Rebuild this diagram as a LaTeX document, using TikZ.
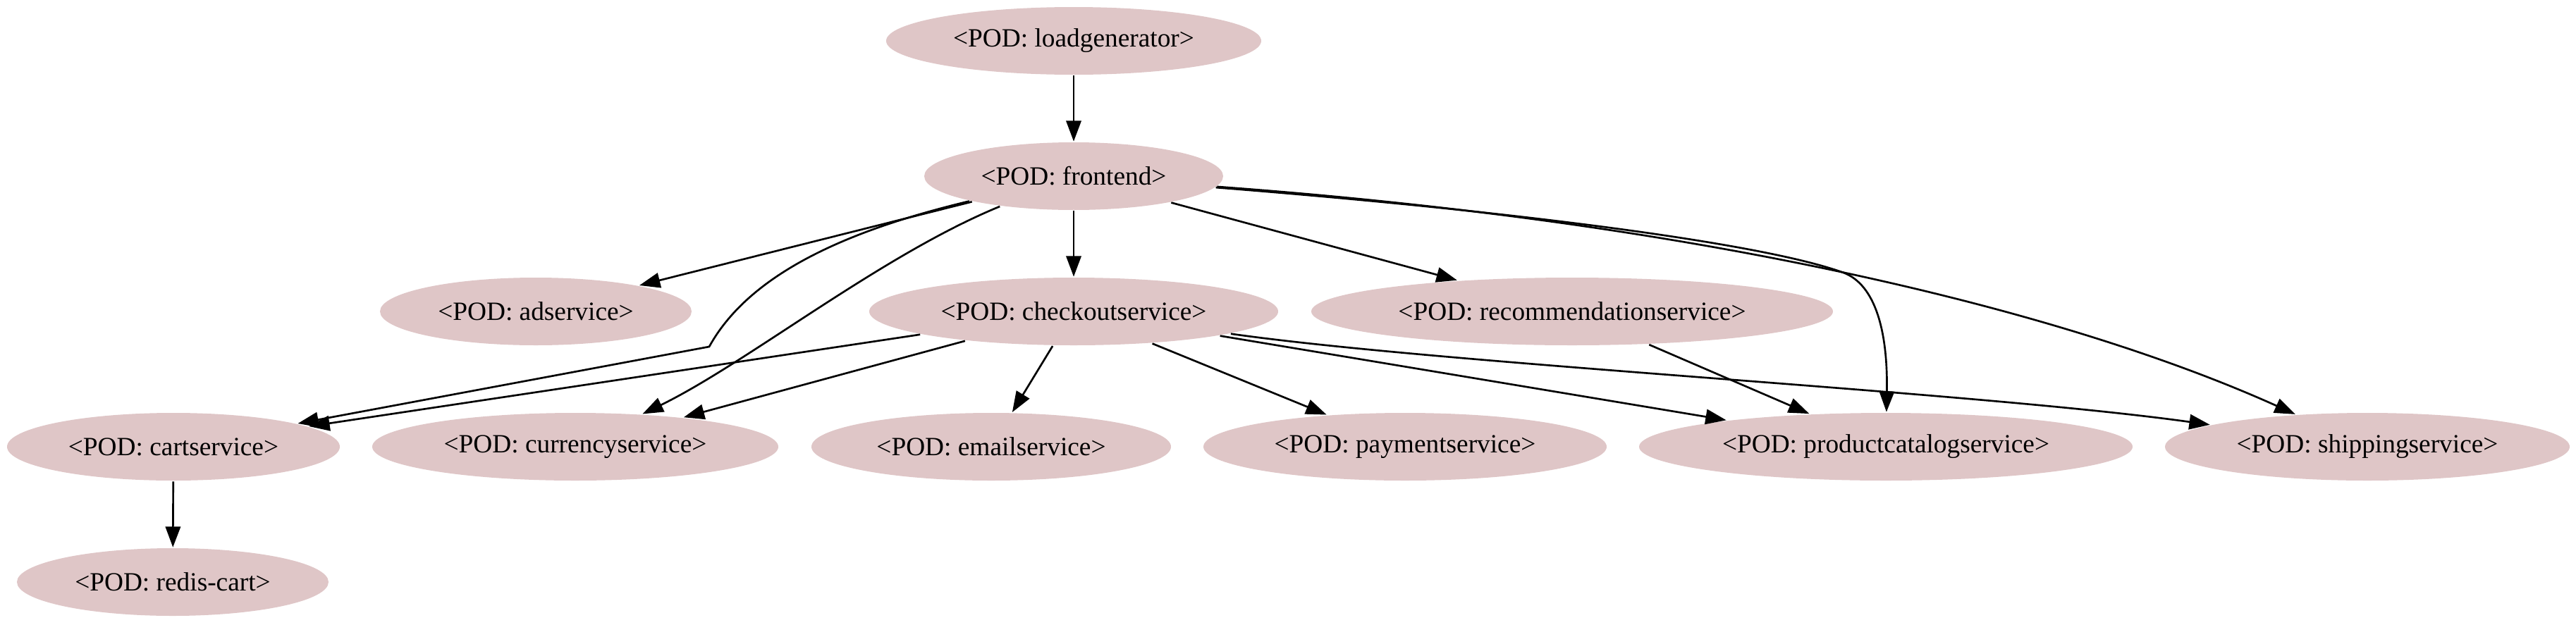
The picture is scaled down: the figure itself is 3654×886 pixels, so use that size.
\documentclass[tikz,border=0pt]{standalone}
\usepackage{fontspec}
\setmainfont{Liberation Serif}
\usetikzlibrary{shapes.geometric, arrows.meta}
\definecolor{podfill}{RGB}{223,198,199}
\begin{document}
\begin{tikzpicture}[x=0.375pt, y=-0.375pt, font=\fontsize{14pt}{16pt}\selectfont,
  >={Triangle[length=11pt, width=8pt]}, line width=1pt,
  pod/.style={ellipse, fill=podfill, inner sep=0pt, minimum height=36pt}]
  \useasboundingbox (0,0) rectangle (3654,886);
  \foreach \N/\X/\Y/\W/\T in {lg/1523/58/199.5/{loadgenerator},
                              fe/1523/250/159/{frontend},
                              ad/760/442/165.75/{adservice},
                              co/1523/442/217.5/{checkoutservice},
                              rec/2230/442/277.5/{recommendationservice},
                              cart/246/634/177/{cartservice},
                              cur/816/634/216/{currencyservice},
                              email/1406/634/191.25/{emailservice},
                              pay/1993/634/214.5/{paymentservice},
                              pc/2675/634/262.5/{productcatalogservice},
                              ship/3358/634/215.25/{shippingservice},
                              redis/245/826/165.75/{redis-cart}%
  } {
  \node[pod, minimum width=\W pt](\N) at (\X,\Y) {<POD: \T>};
  }

  \draw[->, ] (lg) -- (fe);
  \draw[->, ] (fe) -- (ad);
  \draw[->, ] (fe) .. controls (1210,325) and (1065,385) .. (1006,492) -- (cart);
  \draw[->, ] (fe) .. controls (1250,362) and (1060,515) .. (cur);
  \draw[->, ] (fe) -- (co);
  \draw[->, ] (fe) -- (rec);
  \draw[->, ] (fe) .. controls (2150,300) and (2500,345) .. (2615,387)
                   .. controls (2660,404) and (2678,470) .. (pc);
  \draw[->, ] (fe) .. controls (2450,318) and (2950,450) .. (ship);
  \draw[->, ] (co) -- (cart);
  \draw[->, ] (co) -- (cur);
  \draw[->, ] (co) -- (email);
  \draw[->, ] (co) -- (pay);
  \draw[->, ] (co) -- (pc);
  \draw[->, ] (co) .. controls (2050,517) and (2800,556) .. (ship);
  \draw[->, ] (rec) -- (pc);
  \draw[->, ] (cart) -- (redis);
\end{tikzpicture}
\end{document}
